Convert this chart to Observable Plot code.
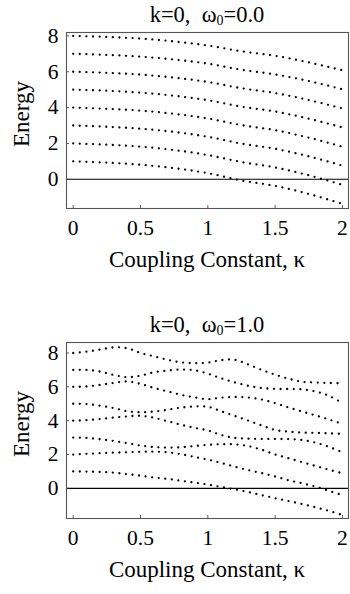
<!DOCTYPE html>
<html>
<head>
<meta charset="utf-8">
<script src="https://cdn.jsdelivr.net/npm/d3@7"></script>
<script src="https://cdn.jsdelivr.net/npm/@observablehq/plot@0.6"></script>
<style>
  body { margin: 0; background: #fff; }
  #wrap { position: relative; width: 350px; height: 594px; font-family: "Liberation Serif", "Times New Roman", serif; color: #000; overflow: hidden; }
  .panel { position: absolute; left: 0; }
  .title, .xlab { position: absolute; left: 66px; width: 282px; text-align: center; line-height: 24px; white-space: pre; }
  .title { font-size: 22.5px; }
  .xlab { font-size: 23px; }
  .title sub { font-size: 0.62em; vertical-align: baseline; position: relative; top: 0.22em; }
  .ylab { position: absolute; font-size: 23px; line-height: 24px; transform: translate(-50%, -50%) rotate(-90deg); white-space: nowrap; }
</style>
</head>
<body>
<div id="wrap"></div>
<script>
// ---- data ----
const xTicks = [0, 0.5, 1, 1.5, 2];
const xTickLabels = ["0", "0.5", "1", "1.5", "2"];
const yTicks = [0, 2, 4, 6, 8];

// Panel 1: omega0 = 0.0
const kappaTop = [0, 0.25, 0.5, 0.75, 1, 1.25, 1.5, 1.75, 2];
const topLevel1 = [1.00, 0.93, 0.81, 0.62, 0.34, -0.07, -0.37, -0.82, -1.37];
const topLevel2 = [2.00, 1.93, 1.82, 1.63, 1.35, 0.96, 0.66, 0.22, -0.31];
const topLevel3 = [3.00, 2.93, 2.82, 2.64, 2.37, 1.99, 1.70, 1.28, 0.76];
const topLevel4 = [4.00, 3.93, 3.83, 3.65, 3.39, 3.02, 2.74, 2.32, 1.82];
const topLevel5 = [5.00, 4.94, 4.83, 4.66, 4.41, 4.05, 3.78, 3.38, 2.89];
const topLevel6 = [6.00, 5.94, 5.84, 5.67, 5.43, 5.08, 4.81, 4.42, 3.95];
const topLevel7 = [7.00, 6.94, 6.84, 6.68, 6.45, 6.11, 5.85, 5.48, 5.02];
const topLevel8 = [8.00, 7.94, 7.85, 7.69, 7.46, 7.14, 6.89, 6.52, 6.08];

// Panel 2: omega0 = 1.0
const kappaBottom = [0, 0.1, 0.2, 0.3, 0.4, 0.5, 0.6, 0.7, 0.8, 0.9, 1.0, 1.1, 1.2, 1.3, 1.4, 1.5, 1.6, 1.7, 1.8, 1.9, 2.0];
const botLevel1 = [1.00, 0.99, 0.97, 0.93, 0.84, 0.75, 0.64, 0.56, 0.45, 0.34, 0.22, 0.08, -0.06, -0.22, -0.40, -0.58, -0.75, -0.93, -1.12, -1.33, -1.58];
const botLevel2 = [2.00, 2.04, 2.08, 2.11, 2.13, 2.16, 2.17, 2.13, 2.02, 1.86, 1.70, 1.50, 1.28, 1.08, 0.90, 0.70, 0.48, 0.30, 0.10, -0.15, -0.40];
const botLevel3 = [3.00, 2.98, 2.90, 2.80, 2.67, 2.53, 2.44, 2.41, 2.43, 2.50, 2.57, 2.61, 2.60, 2.50, 2.28, 2.00, 1.78, 1.55, 1.32, 1.10, 0.89];
const botLevel4 = [4.00, 4.03, 4.10, 4.18, 4.25, 4.29, 4.17, 3.97, 3.76, 3.58, 3.42, 3.15, 2.98, 2.94, 2.92, 2.92, 2.91, 2.86, 2.70, 2.45, 2.13];
const botLevel5 = [5.00, 4.98, 4.88, 4.75, 4.56, 4.50, 4.54, 4.64, 4.77, 4.84, 4.82, 4.55, 4.28, 4.00, 3.72, 3.45, 3.35, 3.30, 3.28, 3.25, 3.22];
const botLevel6 = [6.00, 6.02, 6.12, 6.23, 6.32, 6.17, 5.93, 5.73, 5.53, 5.38, 5.27, 5.36, 5.40, 5.37, 5.25, 5.03, 4.78, 4.54, 4.31, 4.07, 3.80];
const botLevel7 = [7.00, 7.00, 6.90, 6.70, 6.57, 6.66, 6.86, 6.96, 7.02, 6.98, 6.78, 6.50, 6.26, 6.06, 5.93, 5.88, 5.87, 5.85, 5.72, 5.47, 5.04];
const botLevel8 = [8.00, 8.08, 8.20, 8.33, 8.28, 8.00, 7.80, 7.60, 7.45, 7.40, 7.43, 7.58, 7.60, 7.32, 7.00, 6.72, 6.48, 6.30, 6.26, 6.23, 6.20];

const xDomain = [-0.05, 2.045];
const topYDomain = [-1.63, 8.19];
const botYDomain = [-1.78, 8.62];

// ---- build ----
function rows(kappa, levels) {
  const out = [];
  levels.forEach((arr, i) => arr.forEach((e, j) => out.push({k: kappa[j], e, level: i + 1})));
  return out;
}

const W = 350, H = 240, mt = 32, mb = 32, ml = 66, mr = 2;
const innerW = W - ml - mr, innerH = H - mt - mb;
const font = "Liberation Serif, Times New Roman, serif";

function panel(data, yDomain) {
  return Plot.plot({
    width: W, height: H,
    marginTop: mt, marginBottom: mb, marginLeft: ml, marginRight: mr,
    style: {fontFamily: font, fontSize: "21px", background: "#fff", color: "#000", overflow: "visible"},
    x: {domain: xDomain},
    y: {domain: yDomain},
    marks: [
      Plot.ruleY([0], {stroke: "#000", strokeWidth: 1.1}),
      Plot.line(data, {x: "k", y: "e", z: "level", curve: "catmull-rom", stroke: "#000",
        strokeWidth: 2.3, strokeDasharray: "0 6.6", strokeLinecap: "round"}),
      Plot.tickX(xTicks, {x: d => d, stroke: "#333", strokeWidth: 0.8, insetTop: innerH - 3}),
      Plot.tickY(yTicks, {y: d => d, stroke: "#333", strokeWidth: 0.8, insetRight: innerW - 3}),
      Plot.axisX({ticks: xTicks, tickFormat: d => xTickLabels[xTicks.indexOf(d)], tickSize: 0, tickPadding: 11, fontSize: 21.5, label: null}),
      Plot.axisY({ticks: yTicks, tickFormat: d => String(d), tickSize: 0, tickPadding: 8, fontSize: 21.5, label: null}),
      Plot.frame({stroke: "#555", strokeWidth: 1.1})
    ]
  });
}

const wrap = document.getElementById("wrap");

function addPanel(top, data, yDomain, omegaText) {
  const p = panel(data, yDomain);
  p.classList.add("panel");
  p.style.top = top + "px";
  wrap.appendChild(p);

  const t = document.createElement("div");
  t.className = "title";
  t.style.top = (top + 3) + "px";
  t.innerHTML = "k=0,  ω<sub>0</sub>=" + omegaText;
  wrap.appendChild(t);

  const xl = document.createElement("div");
  xl.className = "xlab";
  xl.style.top = (top + 248) + "px";
  xl.textContent = "Coupling Constant, κ";
  wrap.appendChild(xl);

  const yl = document.createElement("div");
  yl.className = "ylab";
  yl.style.left = "22px";
  yl.style.top = (top + mt + innerH / 2 - 6) + "px";
  yl.textContent = "Energy";
  wrap.appendChild(yl);
}

addPanel(0, rows(kappaTop, [topLevel1, topLevel2, topLevel3, topLevel4, topLevel5, topLevel6, topLevel7, topLevel8]), topYDomain, "0.0");
addPanel(310, rows(kappaBottom, [botLevel1, botLevel2, botLevel3, botLevel4, botLevel5, botLevel6, botLevel7, botLevel8]), botYDomain, "1.0");
</script>
</body>
</html>
